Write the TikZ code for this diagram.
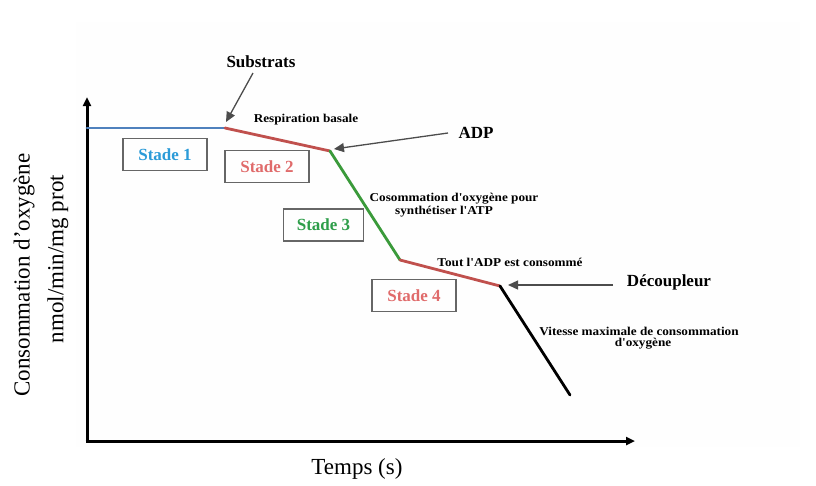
\documentclass[tikz,border=0pt]{standalone}
\usepackage{fontspec}
\setmainfont{Liberation Serif}
\newfontfamily\widefont[FakeStretch=1.1]{Liberation Serif}
\usetikzlibrary{arrows.meta}
\definecolor{lblue}{HTML}{4F81BD}
\definecolor{lred}{HTML}{C0504D}
\definecolor{lgreen}{HTML}{3A9A3A}
\definecolor{tblue}{HTML}{2B9BD8}
\definecolor{tred}{HTML}{E06B6B}
\definecolor{tgreen}{HTML}{2E9E4A}
\tikzset{
  axis/.style={line width=3pt, -{Triangle[length=9pt,width=8pt]}},
  curve/.style={line width=2.8pt, line cap=round, line join=round},
  pointer/.style={draw=black!70, line width=1.3pt, -{Triangle[length=10pt,width=9pt]}},
  stadebox/.style={draw=black!60, line width=1.5pt, minimum width=84pt, minimum height=32pt, inner sep=0pt, font=\fontsize{17}{19}\selectfont\bfseries},
  small/.style={font=\widefont\fontsize{12}{14}\selectfont\bfseries, inner sep=0pt, align=center},
  big/.style={font=\fontsize{17}{19}\selectfont\bfseries, inner sep=0pt},
  axislabel/.style={font=\fontsize{23}{25}\selectfont, inner sep=0pt}
}
\begin{document}
\begin{tikzpicture}[x=1pt,y=-1pt]
\useasboundingbox (0,0) rectangle (816,485);
\fill[black!0.5] (76,22) rectangle (800,447);
% axes
\coordinate (O) at (87,441);
\coordinate (ytip) at (87,97);
\coordinate (xtip) at (635,441);
\draw[axis] ([yshift=1.5pt]O) -- (ytip);
\draw[axis] ([xshift=-1.5pt]O) -- (xtip);
% curve points
\coordinate (p0) at (87,128);
\coordinate (p1) at (225,128);
\coordinate (p2) at (330,151);
\coordinate (p3) at (400,260);
\coordinate (p4) at (500,286);
\coordinate (p5) at (570,395);
\draw[curve, lblue] (p0) -- (p1);
\draw[curve, lred] (p1) -- (p2);
\draw[curve, lgreen] (p2) -- (p3);
\draw[curve, lred] (p3) -- (p4);
\draw[curve, black] (p4) -- (p5);
% stage boxes
\node[stadebox, text=tblue] (s1) at (165,154.5) {Stade 1};
\node[stadebox, text=tred] (s2) at (267,166.5) {Stade 2};
\node[stadebox, text=tgreen, minimum width=80pt] (s3) at (323.5,225) {Stade 3};
\node[stadebox, text=tred] (s4) at (414,295.5) {Stade 4};
% annotations
\node[small] (resp) at (306,120) {Respiration basale};
\node[small] (cons1) at (454,199) {Cosommation d'oxygène pour};
\node[small] (cons2) at (444,211.5) {synthétiser l'ATP};
\node[small] (tout) at (510,262) {Tout l'ADP est consommé};
\node[small] (vit1) at (639,331) {Vitesse maximale de consommation};
\node[small] (vit2) at (643,344) {d'oxygène};
% pointer labels
\node[big] (sub) at (261,62) {Substrats};
\node[big] (adp) at (476,133) {ADP};
\node[big] (dec) at (669,282) {Découpleur};
\coordinate (subs) at (253,73);
\coordinate (adps) at (448,133);
\coordinate (decs) at (613,285);
\draw[pointer] (subs) -- ([shift={(1,-6)}]p1);
\draw[pointer] (adps) -- ([shift={(4,-2)}]p2);
\draw[pointer] (decs) -- ([shift={(8,-1)}]p4);
% axis labels
\node[axislabel, rotate=90] (ylab1) at (24,275) {Consommation d’oxygène};
\node[axislabel, rotate=90] (ylab2) at (58,259) {nmol/min/mg prot};
\node[axislabel] (xlab) at (357,469) {Temps (s)};
\end{tikzpicture}
\end{document}
